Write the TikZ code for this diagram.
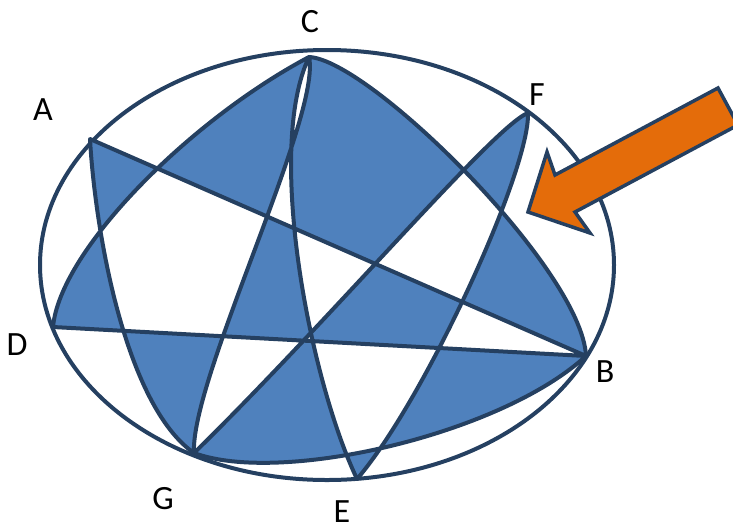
\documentclass[tikz,border=0pt]{standalone}
\usepackage{fontspec}
\setmainfont{Carlito}
\definecolor{regionblue}{RGB}{79, 129, 189}
\definecolor{edgeblue}{RGB}{37, 64, 97}
\definecolor{pointorange}{RGB}{228, 108, 10}
\usepackage{tikz}

\begin{document}
\begin{tikzpicture}[x=1pt, y=-1pt,
  curve/.style={draw=edgeblue, line width=4pt, line join=round},
  lbl/.style={font=\fontsize{34}{40}\selectfont, inner sep=0pt}
]
  \useasboundingbox (0,0) rectangle (733,531);
  \draw[edgeblue, line width=4pt] (327,265) ellipse [x radius=287pt, y radius=215pt];

  \coordinate (A) at (90,139);
  \coordinate (B) at (586,356);
  \coordinate (C) at (309,57);
  \coordinate (D) at (53,327);
  \coordinate (E) at (357,479);
  \coordinate (F) at (528,113);
  \coordinate (G) at (194,453);

  \path[curve, fill=regionblue, even odd rule] (A) -- (B) -- (D)
    .. controls (60,250) and (190,120) .. (C)
    .. controls (370,60) and (582,270) .. (B)
    .. controls (500,435) and (280,485) .. (G)
    .. controls (190,380) and (322,115) .. (C)
    .. controls (265,150) and (310,380) .. (E)
    .. controls (425,400) and (530,170) .. (F)
    .. controls (495,125) and (330,320) .. (G)
    .. controls (125,405) and (95,230) .. (A) -- cycle;

  \node[lbl] (labA) at (43,110) {A};
  \node[lbl] (labB) at (605,372) {B};
  \node[lbl] (labC) at (310,22) {C};
  \node[lbl] (labD) at (17,345) {D};
  \node[lbl] (labE) at (342,512) {E};
  \node[lbl] (labF) at (537,95) {F};
  \node[lbl] (labG) at (163,499) {G};

  \draw[edgeblue, line width=3.5pt, fill=pointorange] (528,212) -- (547,152) -- (555,175) -- (718,88)
    -- (738,125) -- (575,212) -- (590,233) -- cycle;
\end{tikzpicture}
\end{document}
